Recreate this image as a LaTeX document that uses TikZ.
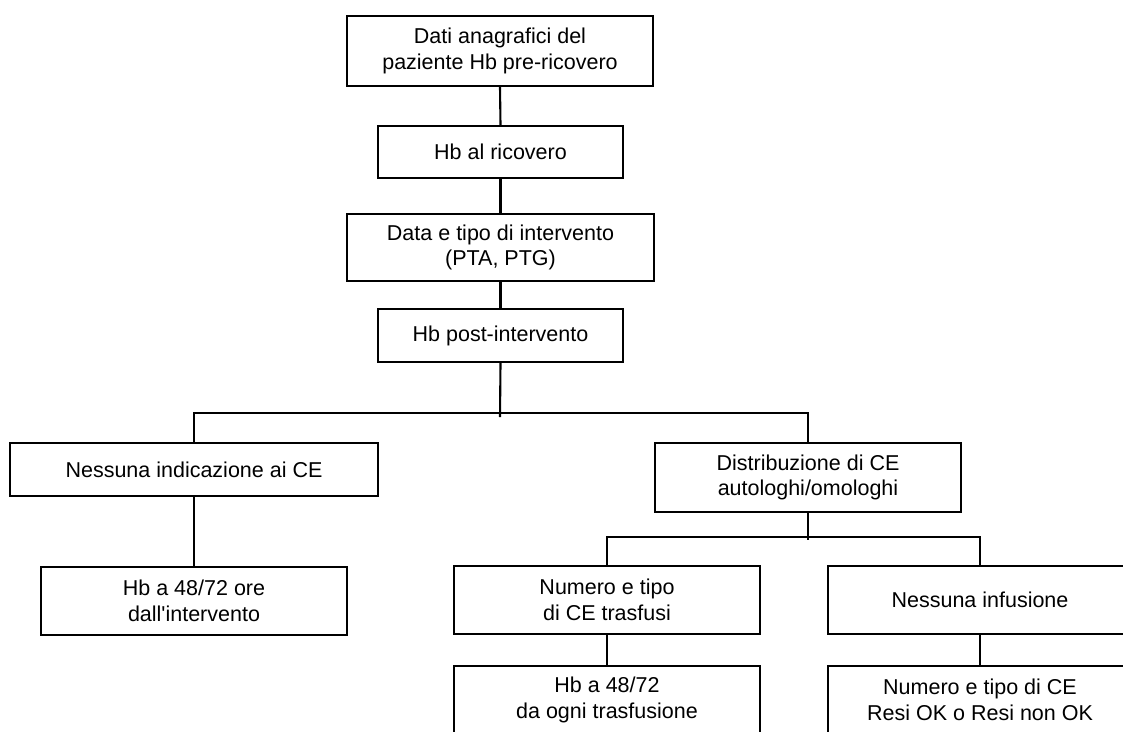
\documentclass[tikz,border=0pt]{standalone}
\usepackage{fontspec}
\setmainfont{Liberation Sans}
\begin{document}
\begin{tikzpicture}[x=1pt,y=-1pt,
  box/.style={draw=black,line width=2.4pt,fill=white,inner sep=0pt,align=center,
    font=\fontsize{21.5}{25.5}\selectfont},
  conn/.style={draw=black,line width=2.1pt}]
\useasboundingbox (0,0) rectangle (1123,731);
\clip (0,0) rectangle (1123,731);
\fill[white] (0,0) rectangle (1123,731);
\node[box,minimum width=306pt,minimum height=70pt] (A) at (500,51) {Dati anagrafici del\\paziente Hb pre-ricovero};
\node[box,minimum width=245pt,minimum height=52pt] (B) at (500.5,152) {Hb al ricovero};
\node[box,minimum width=307pt,minimum height=67pt] (C) at (500.5,247.5) {Data e tipo di intervento\\(PTA, PTG)};
\node[box,minimum width=245pt,minimum height=53pt] (D) at (500.5,335.5) {Hb post-intervento};
\node[box,minimum width=368pt,minimum height=53pt] (E) at (194,469.5) {Nessuna indicazione ai CE};
\node[box,minimum width=306pt,minimum height=69pt] (F) at (808,477.5) {Distribuzione di CE\\autologhi/omologhi};
\node[box,minimum width=306pt,minimum height=68pt] (G) at (194,601) {Hb a 48/72 ore\\dall\textquotesingle intervento};
\node[box,minimum width=306pt,minimum height=68pt] (H) at (607,600) {Numero e tipo\\di CE trasfusi};
\node[box,minimum width=304pt,minimum height=68pt] (I) at (980,600) {Nessuna infusione};
\node[box,minimum width=306pt,minimum height=68pt] (J) at (607,700) {Hb a 48/72\\da ogni trasfusione};
\node[box,minimum width=304pt,minimum height=68pt] (K) at (980,700) {Numero e tipo di CE\\Resi OK o Resi non OK};
\coordinate (j1) at (500,413);
\coordinate (j1e) at (500,417);
\coordinate (j2) at (808,537);
\coordinate (j2e) at (808,540);
\draw[conn] (A.south) -- (B.north);
\draw[conn] (B.south) -- (C.north);
\draw[conn] (C.south) -- (D.north);
\draw[conn] (D.south) -- (j1e);
\draw[conn] (E.north) |- (j1) -| (F.north);
\draw[conn] (E.south) -- (G.north);
\draw[conn] (F.south) -- (j2e);
\draw[conn] (H.north) |- (j2) -| (I.north);
\draw[conn] (H.south) -- (J.north);
\draw[conn] (I.south) -- (K.north);
\end{tikzpicture}
\end{document}
